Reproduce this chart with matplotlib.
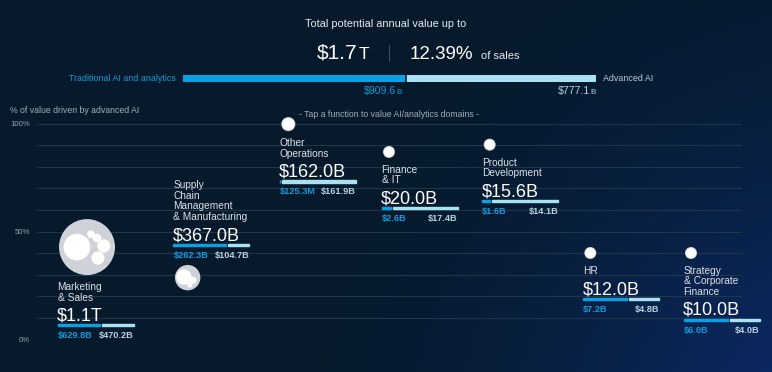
import numpy as np
import matplotlib
matplotlib.use("Agg")
import matplotlib.pyplot as plt
from matplotlib.patches import Circle, Rectangle
from matplotlib.transforms import Affine2D

plt.rcParams['font.family'] = ['Liberation Sans', 'DejaVu Sans']

# ---------------- data ----------------
names = ["Marketing\n& Sales", "Supply\nChain\nManagement\n& Manufacturing",
         "Other\nOperations", "Finance\n& IT", "Product\nDevelopment", "HR",
         "Strategy\n& Corporate\nFinance"]
total_b = [1100.0, 367.0, 162.0, 20.0, 15.6, 12.0, 10.0]
traditional_b = [629.8, 262.3, 0.1253, 2.6, 1.6, 7.2, 6.0]
advanced_b = [470.2, 104.7, 161.9, 17.4, 14.1, 4.8, 4.0]
label_side = ['below', 'above', 'below', 'below', 'below', 'below', 'below']

overall_total_num = "$1.7"
overall_total_unit = "T"
overall_pct = "12.39%"
overall_traditional = 909.6
overall_advanced = 777.1

grid_ticks = list(range(0, 101, 10))
y_ticks = [0, 50, 100]
y_tick_labels = ["0%", "50%", "100%"]

# ---------------- style ----------------
W, H = 772, 372
BG = '#061a2c'
BLUE = '#0b9fe3'
LIGHT = '#a9e2f2'
BLUE_TXT = '#129bdb'
LIGHT_TXT = '#b3d3df'
NAME_C = '#dce0e6'
GRAY_TXT = '#a3abb5'
BUBBLE = '#cfd2d8'

fig = plt.figure(figsize=(W / 100, H / 100), dpi=100)
fig.patch.set_facecolor(BG)

# background gradient
bg = fig.add_axes([0, 0, 1, 1])
bg.axis('off')
yy, xx = np.mgrid[0:H, 0:W]
d = np.hypot(xx - (W + 80), yy - (H + 80))
t = np.clip(1 - d / 560, 0, 1) ** 1.5
base = np.array([6, 26, 44]) / 255
blue = np.array([14, 46, 118]) / 255
img = base + t[..., None] * (blue - base)
bg.imshow(img, extent=[0, W, H, 0], aspect='auto', interpolation='bilinear')
bg.set_xlim(0, W)
bg.set_ylim(H, 0)


def ftext(x, y, s, **kw):
    fig.text(x / W, 1 - y / H, s, va=kw.pop('va', 'baseline'), **kw)


# ---------------- header ----------------
ftext(386, 27, "Total potential annual value up to", ha='center', fontsize=7.9, color='#e6e9ee')
ftext(317, 59, overall_total_num, ha='left', fontsize=15, color='white')
ftext(359, 59, overall_total_unit, ha='left', fontsize=12.5, color='white')
fig.add_artist(plt.Line2D([389 / W, 389 / W], [1 - 45 / H, 1 - 61 / H], color='#3a4a5a', lw=0.8))
ftext(410, 59, overall_pct, ha='left', fontsize=13.5, color='white')
ftext(481, 59, "of sales", ha='left', fontsize=8, color='#e6e9ee')

hb = fig.add_axes([183 / W, 1 - 82 / H, (596 - 183) / W, 7 / H])
hb.barh(0, overall_traditional, height=1, color=BLUE)
hb.barh(0, overall_advanced, left=overall_traditional, height=1, color=LIGHT)
hb.axvline(overall_traditional, color=BG, lw=1.2)
hb.set_xlim(0, overall_traditional + overall_advanced)
hb.set_ylim(-0.5, 0.5)
hb.axis('off')

ftext(176, 81, "Traditional AI and analytics", ha='right', fontsize=6.4, color=BLUE_TXT)
ftext(603, 81, "Advanced AI", ha='left', fontsize=6.4, color='#c3cad2')
ftext(402, 94, "B", ha='right', fontsize=5.8, color=BLUE_TXT)
ftext(396, 94, f"${overall_traditional:.1f}", ha='right', fontsize=7.6, color=BLUE_TXT)
ftext(596, 94, "B", ha='right', fontsize=5.8, color=LIGHT_TXT)
ftext(590, 94, f"${overall_advanced:.1f}", ha='right', fontsize=7.6, color=LIGHT_TXT)

ftext(10, 113, "% of value driven by advanced AI", ha='left', fontsize=6.3, color=GRAY_TXT)
ftext(389, 117, "- Tap a function to value AI/analytics domains -", ha='center', fontsize=6.3, color=GRAY_TXT)

# ---------------- main axes ----------------
n = len(names)
step = (691 - 87) / (n - 1)
ax = fig.add_axes([37 / W, (H - 339) / H, (742 - 37) / W, (339 - 124) / H])
ax.set_facecolor('none')
ax.set_xlim(-(87 - 37) / step, (n - 1) + (742 - 691) / step)
ax.set_ylim(0, 100)
for s in ax.spines.values():
    s.set_visible(False)
ax.set_xticks([])
ax.set_yticks(grid_ticks)
ax.set_yticklabels([y_tick_labels[y_ticks.index(v)] if v in y_ticks else "" for v in grid_ticks])
ax.tick_params(axis='y', length=0, pad=5, labelsize=5.6, labelcolor='#98a2ad')
ax.grid(axis='y', color='#213549', lw=0.8)
ax.set_axisbelow(True)

pct_adv = [100 * a / tot for a, tot in zip(advanced_b, total_b)]


def radius(v):
    return max(6.0, 28 * (v / total_b[0]) ** 0.72)


clusters = {
    0: [(-0.36, 0.0, 0.45), (0.14, -0.46, 0.11), (0.36, -0.32, 0.13),
        (0.6, -0.04, 0.21), (0.39, 0.39, 0.21)],
    1: [(-0.3, -0.05, 0.55), (0.42, 0.2, 0.22), (0.17, 0.58, 0.14)],
}


def fmt(v):
    if v >= 1000:
        return f"${v / 1000:.1f}T"
    if v < 1:
        return f"${v * 1000:.1f}M"
    return f"${v:.1f}B"


BAR_W = 76
GAP = 2
for i in range(n):
    r = radius(total_b[i])
    ax.scatter([i], [pct_adv[i]], s=(2 * r * 0.72) ** 2, color=BUBBLE,
               edgecolors='none', zorder=3, clip_on=False)
    cx, cy = ax.transData.transform((i, pct_adv[i]))
    tr = Affine2D().scale(1, -1).translate(cx, cy)
    if r > 10:
        for dx, dy, rr in clusters.get(i, clusters[0]):
            ax.add_patch(Circle((dx * r, dy * r), rr * r, color='white',
                                transform=tr, zorder=4, clip_on=False))
    else:
        ax.add_patch(Circle((0, 0), r - 1.6, color='white', transform=tr,
                            zorder=4, clip_on=False))

    lines = names[i].split('\n')
    x0 = -r - 1.5
    if label_side[i] == 'below':
        name_bl = [r + 15 + 10.5 * k for k in range(len(lines))]
        big_bl = name_bl[-1] + 20
        bar_y = big_bl + 4.8
        small_bl = bar_y + 13
    else:
        small_bl = -r - 7
        bar_y = small_bl - 13
        big_bl = bar_y - 4.8
        name_bl = [big_bl - 20.5 - 10.5 * (len(lines) - 1 - k) for k in range(len(lines))]

    kw = dict(transform=tr, va='baseline', clip_on=False, zorder=5)
    for ln, bl in zip(lines, name_bl):
        ax.text(x0, bl, ln, ha='left', fontsize=7.3, color=NAME_C, **kw)
    ax.text(x0 - 0.5, big_bl, fmt(total_b[i]), ha='left', fontsize=13, color='white', **kw)
    wt = (BAR_W - GAP) * traditional_b[i] / total_b[i]
    ax.add_patch(Rectangle((x0, bar_y - 1.1), wt, 2.2, color=BLUE, transform=tr,
                           clip_on=False, zorder=5))
    ax.add_patch(Rectangle((x0 + wt + GAP, bar_y - 1.1), BAR_W - GAP - wt, 2.2, color=LIGHT,
                           transform=tr, clip_on=False, zorder=5))
    ax.text(x0, small_bl, fmt(traditional_b[i]), ha='left', fontsize=6.6,
            color=BLUE_TXT, fontweight='bold', **kw)
    ax.text(x0 + BAR_W, small_bl, fmt(advanced_b[i]), ha='right', fontsize=6.6,
            color=LIGHT_TXT, fontweight='bold', **kw)

fig.savefig("out.png", dpi=100, facecolor=BG)
